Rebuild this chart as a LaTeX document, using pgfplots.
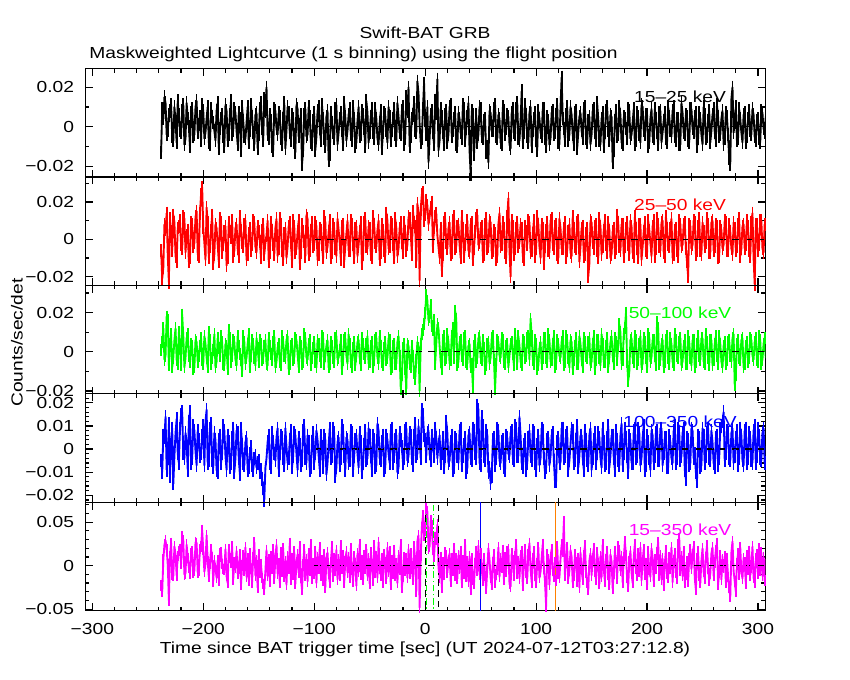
\documentclass[border=0pt]{standalone}
\usepackage{pgfplots}
\pgfplotsset{compat=1.18}
\usepackage{pgfplotstable}
\usepackage{fontspec}
\setmainfont{Liberation Sans}[FakeStretch=1.2]
\definecolor{pgred}{RGB}{255,0,0}
\definecolor{pggreen}{RGB}{0,255,0}
\definecolor{pgblue}{RGB}{0,0,255}
\definecolor{pgmag}{RGB}{255,0,255}
\definecolor{pgorange}{RGB}{255,128,0}
% t [s], rates in units of 1e-3 counts/sec/det
\pgfplotstableread{
t a b c d e
-238 -13 -6 1 -5 -23
-237 9 -21 5 -10 -30
-236 4 -15 12 6 7
-235 15 8 -4 5 24
-234 12 5 -2 14 29
-233 -4 14 18 -9 19
-232 -2 -9 16 -4 1
-231 6 -23 -7 11 -40
-230 8 11 4 -12 11
-229 11 4 9 2 26
-228 -5 -6 -8 9 -10
-227 -7 13 -3 -15 -12
-226 10 9 6 -3 22
-225 3 -9 12 7 13
-224 -8 -12 -4 13 -11
-223 13 6 -6 -2 11
-222 6 7 10 -6 17
-221 -2 10 2 9 19
-220 -3 -3 -7 15 2
-219 8 -5 19 16 34
-218 11 12 8 -2 29
-217 -9 11 -8 -4 -10
-216 -6 -7 -3 7 -9
-215 12 2 7 3 24
-214 4 5 9 -9 9
-213 0 -12 -2 12 -2
-212 -10 -10 -5 16 -9
-211 7 9 4 -6 14
-210 9 8 3 -4 16
-209 -5 -4 -9 10 -8
-208 -4 -2 -8 8 -6
-207 10 12 6 -1 27
-206 13 15 5 -7 26
-205 -3 -8 -5 8 -8
-204 1 -9 -2 4 -6
-203 5 14 3 -3 19
-202 -7 24 7 -2 22
-201 11 28 -4 6 41
-200 8 6 -6 10 18
-199 -6 -2 8 -7 -7
-198 -3 -11 4 12 2
-197 4 17 -3 17 35
-196 10 9 -8 -6 5
-195 -8 -10 10 -5 -13
-194 -9 -4 6 9 2
-193 9 5 -6 11 19
-192 5 13 -3 -5 10
-191 2 -13 1 -8 -18
-190 -2 -8 9 7 6
-189 -7 8 -8 4 -3
-188 8 6 -5 -9 -14
-187 12 -3 7 -10 6
-186 -11 -12 2 4 -17
-185 -1 11 -2 6 14
-184 4 9 8 -6 15
-183 6 -7 5 -2 2
-182 -5 -3 -6 10 -4
-181 -10 4 -7 8 -5
-180 11 7 4 -3 19
-179 8 -14 3 -9 -12
-178 -7 -10 -9 6 -20
-177 -4 9 11 3 19
-176 6 4 7 -8 9
-175 13 1 -5 -6 3
-174 -4 10 -2 5 22
-173 -2 -9 6 9 -16
-172 9 -6 5 -10 4
-171 7 6 -4 -4 -2
-170 -2 8 -7 8 17
-169 -9 -5 8 7 -9
-168 7 -9 3 -4 -3
-167 4 12 -1 -11 13
-166 -12 5 -4 9 -22
-165 10 -2 -10 2 0
-164 3 -4 8 -6 12
-163 -5 8 5 -7 -6
-162 -6 10 -6 3 21
-161 2 -11 -3 5 -13
-160 10 -8 4 -9 8
-159 -8 3 9 -8 -17
-158 -2 6 -8 -2 14
-157 11 -6 -2 1 -4
-156 5 -3 6 -7 -19
-155 -3 10 4 -9 10
-154 -9 9 -3 -4 27
-153 6 -4 -7 -3 -11
-152 7 -7 7 -8 6
-151 -11 7 2 -6 -25
-150 -4 4 -5 -5 13
-149 9 -1 6 -10 -8
-148 12 -10 4 -9 2
-147 -1 5 -4 -13 -14
-146 -7 8 -3 -17 -21
-145 14 -8 3 -22 -27
-144 8 -2 6 -8 -6
-143 20 2 -6 -4 18
-142 -4 10 -7 3 -12
-141 -6 -12 7 6 7
-140 6 -7 3 -6 -18
-139 3 9 -1 -8 11
-138 -10 5 -4 7 -3
-137 -12 -3 5 3 19
-136 9 -8 8 -2 -15
-135 8 6 -8 -5 8
-134 -1 11 -5 5 24
-133 -4 -9 2 9 -9
-132 7 -5 4 -9 3
-131 5 11 -5 -2 -20
-130 -6 8 -7 6 15
-129 -9 -6 8 5 -7
-128 4 -11 5 -4 20
-127 12 3 -2 -7 -13
-126 -11 6 -3 9 5
-125 -2 -10 6 1 -22
-124 10 -4 8 -6 11
-123 7 7 -9 -4 -4
-122 -3 9 -6 4 26
-121 -7 -2 3 8 -16
-120 6 -12 4 -8 9
-119 4 10 -4 -3 -10
-118 -8 7 -3 7 16
-117 -13 -7 7 6 -21
-116 11 -5 6 -2 4
-115 9 4 -1 -9 13
-114 -5 10 -8 5 -8
-113 1 -13 5 2 22
-112 6 -7 3 -7 -14
-111 -19 8 -6 -5 -28
-110 -12 4 -5 8 2
-109 6 -1 9 10 19
-108 9 -9 7 -4 -11
-107 -5 13 -3 -6 7
-106 -4 11 -4 6 -18
-105 10 -8 4 3 14
-104 5 -6 6 -9 -6
-103 -8 5 -7 -8 24
-102 -9 9 -3 3 -15
-101 3 -4 2 7 3
-100 7 -3 5 -6 -9
-99 -12 9 -5 -2 17
-98 -5 7 -8 8 -20
-97 8 -11 6 4 10
-96 10 -8 4 -3 -4
-95 -1 6 -2 -9 21
-94 -7 5 -5 6 -12
-93 11 -3 8 1 6
-92 4 -10 7 -8 -17
-91 -6 12 -6 6 13
-90 -10 9 -2 4 -25
-89 5 -7 3 -11 8
-88 8 -4 6 -6 15
-87 -17 4 -8 2 -9
-86 -14 10 -6 9 -19
-85 7 -10 5 -4 4
-84 2 -7 3 -3 22
-83 -3 8 -3 9 -13
-82 -6 6 -5 7 9
-81 9 -5 7 -12 -6
-80 11 -9 8 -8 18
-79 -9 11 -4 3 -16
-78 -3 5 -3 5 7
-77 4 -2 1 -7 -11
-76 7 -11 6 -4 23
-75 -2 7 -9 10 -3
-74 -9 8 -4 8 12
-73 12 -12 6 -3 -20
-72 5 -4 7 -9 5
-71 -7 3 -2 5 16
-70 -2 10 -6 4 -8
-69 6 -6 9 -6 10
-68 9 -6 4 -5 -14
-67 -4 10 -5 8 20
-66 -7 8 -8 7 -5
-65 10 -3 2 -9 -18
-64 4 -10 5 -3 11
-63 -10 6 -7 4 3
-62 -8 7 -2 6 -23
-61 3 -9 5 -2 14
-60 10 -3 6 -8 -7
-59 -5 4 -3 7 25
-58 -4 9 -7 3 -10
-57 8 -13 7 -10 6
-56 6 -8 4 -6 -16
-55 -1 9 -1 2 12
-54 -10 11 -3 8 -3
-53 13 -4 4 -5 19
-52 7 -5 8 -4 -12
-51 -8 7 -6 9 8
-50 -3 6 -5 6 -21
-49 5 -8 3 -3 15
-48 9 -10 5 -9 2
-47 -3 12 -8 6 -17
-46 -6 8 -4 4 23
-45 9 -2 6 -8 -8
-44 4 -4 7 -7 11
-43 -6 5 -3 11 -14
-42 -9 10 -6 8 27
-41 2 -11 8 -4 -4
-40 8 -7 3 -5 -11
-39 -11 8 -5 3 9
-38 -3 5 -7 6 -19
-37 7 -6 2 -9 13
-36 6 -9 5 -8 4
-35 -2 14 -4 6 -15
-34 -8 10 -3 4 21
-33 10 -5 7 -2 -7
-32 5 -4 6 -6 16
-31 -7 9 -9 8 -22
-30 -2 8 -8 9 6
-29 4 -3 3 -6 -9
-28 9 -10 4 -3 18
-27 -4 11 -6 4 -12
-26 -7 6 -6 6 3
-25 12 -9 5 -10 -20
-24 5 -5 8 -8 12
-23 -3 6 -2 7 -5
-22 -4 9 -19 4 24
-21 8 -2 -12 1 -25
-20 10 -7 2 -6 -13
-19 -9 9 4 -4 10
-18 -6 4 -9 8 -6
-17 15 -6 -19 9 8
-16 8 -3 4 -5 -14
-15 20 12 3 -3 19
-14 -10 11 -6 7 -9
-13 -5 3 -8 6 14
-12 4 -8 3 -4 -3
-11 6 15 -2 -7 -16
-10 12 9 -11 6 22
-9 -2 7 -14 11 6
-8 -3 -12 -4 -3 -30
-7 23 19 5 -2 28
-6 17 14 2 10 35
-5 1 -22 -20 4 -48
-4 -8 16 4 -4 12
-3 -6 24 9 17 44
-2 9 25 11 15 58
-1 22 10 14 6 35
0 3 13 20 4 40
1 -4 21 29 -3 66
2 10 18 26 7 62
3 -18 8 16 8 20
4 -6 12 18 -2 22
5 6 17 24 -5 52
6 8 20 13 6 46
7 -3 -4 11 2 18
8 -9 6 16 -3 10
9 13 12 -6 9 33
10 7 14 4 5 30
11 24 2 14 -4 47
12 -12 -4 12 2 -2
13 -7 -10 3 6 -14
14 9 6 -5 -6 10
15 5 -17 -9 -2 -25
16 -3 -8 6 5 4
17 -9 9 8 -8 -10
18 6 11 -4 -3 15
19 8 -2 -3 12 12
20 -8 -5 9 7 -8
21 -4 6 5 -6 6
22 10 9 -6 -5 14
23 11 -8 -4 3 -18
24 -5 -7 8 6 9
25 -2 10 12 -9 -6
26 4 12 -3 -8 20
27 7 -5 21 5 -11
28 -9 -4 17 4 8
29 -10 7 -7 -3 -15
30 7 8 -5 -6 12
31 4 -3 5 8 -4
32 -3 -10 6 9 17
33 -6 12 -2 -7 -20
34 11 6 -4 -3 6
35 9 -9 7 2 -9
36 -7 -3 8 5 24
37 -1 5 -5 -10 -13
38 5 10 -6 -8 5
39 12 -6 3 6 -18
40 -12 -7 4 7 11
41 -24 8 -8 -4 -27
42 8 9 -6 -5 8
43 6 -11 -18 9 -16
44 -14 -5 3 8 -21
45 -3 4 6 -2 3
46 6 11 -5 -4 16
47 -8 13 -3 19 -6
48 -4 -3 7 17 23
49 10 -2 8 -6 -10
50 9 6 -3 -7 14
51 -5 7 -4 14 -3
52 -6 -9 6 10 -17
53 3 -8 2 -3 9
54 4 8 -9 -5 -12
55 -13 11 -7 8 -26
56 -10 -5 4 6 -4
57 -18 -4 5 -10 20
58 8 10 -6 -8 7
59 7 9 -3 -15 -14
60 -2 -7 7 -12 -22
61 -2 -6 8 4 4
62 9 5 -4 5 13
63 11 3 -19 -7 -19
64 -5 -11 -6 -4 -10
65 -6 -9 6 9 -5
66 6 8 5 8 21
67 4 14 -2 -5 -13
68 -8 -4 -3 -6 8
69 -9 -3 7 3 -2
70 10 9 6 4 18
71 8 6 -5 -8 -16
72 -4 -7 -6 -9 10
73 -1 -10 3 6 -7
74 6 12 4 5 17
75 5 22 -8 -2 19
76 -9 -6 -2 -3 -21
77 -11 -20 4 7 -24
78 7 10 5 8 14
79 9 7 -1 -4 6
80 -3 -8 -7 -5 -12
81 -4 -5 9 10 11
82 9 6 3 9 24
83 12 9 -6 -3 -9
84 -6 -4 8 -3 5
85 -7 -2 3 14 -15
86 3 8 -5 6 12
87 18 6 -7 -6 17
88 -8 -9 6 -8 -23
89 -3 -11 5 2 2
90 11 7 -3 4 19
91 6 4 -2 -9 -8
92 -5 -3 7 -6 -15
93 -8 10 8 5 13
94 7 9 -4 8 26
95 10 -7 17 -3 -4
96 -10 -6 8 -5 -19
97 -2 3 -4 8 8
98 4 10 -6 7 16
99 7 -9 6 -6 -11
100 -7 -5 4 -9 -20
101 -12 12 -9 2 3
102 8 8 -7 6 21
103 4 -4 2 -7 -14
104 -3 -10 5 -4 -7
105 -5 8 -6 9 9
106 9 6 -3 8 25
107 9 -13 7 -4 -3
108 -6 -4 7 -10 -18
109 -10 5 -3 -8 -47
110 5 9 -5 4 13
111 3 -6 9 5 7
112 -9 -7 6 -7 -22
113 -6 10 -5 -3 10
114 7 11 -4 6 19
115 8 -3 4 7 -6
116 -4 -5 8 -5 -13
117 -3 7 -8 -14 4
118 6 8 -6 -14 -17
119 11 -8 6 3 22
120 -8 -10 4 5 -9
121 -9 11 -2 -6 -14
122 10 6 -3 -6 8
123 25 -5 5 9 24
124 4 -5 8 9 16
125 -1 6 -7 -4 51
126 -7 9 -5 -3 -12
127 6 -10 8 6 5
128 10 -6 6 7 21
129 -7 4 -3 -9 -15
130 -4 8 -8 -5 -6
131 10 -7 6 2 18
132 6 -9 5 9 10
133 -4 12 -9 8 -20
134 -9 6 -4 -6 -11
135 7 -4 3 -5 13
136 8 -5 7 4 4
137 -11 9 -6 10 -18
138 -3 10 -6 -8 9
139 5 -12 8 -3 -25
140 7 -4 4 6 15
141 -2 6 -4 6 -5
142 -6 7 -8 -4 -16
143 9 -9 7 -9 12
144 10 -8 5 8 23
145 -6 3 -2 4 -8
146 -8 6 -3 -5 -19
147 3 -20 5 -7 -28
148 5 -13 7 6 6
149 -9 10 -7 9 14
150 -4 9 -5 -9 -11
151 8 -2 4 -4 9
152 9 -5 8 4 20
153 -3 7 -9 7 -7
154 -7 8 -4 -6 -16
155 12 -6 6 -2 15
156 4 -10 6 7 3
157 -7 11 -3 5 -21
158 -9 7 -7 -4 11
159 4 -8 9 -8 -13
160 7 -4 4 9 24
161 -10 5 -5 3 -4
162 -3 10 -5 -7 -18
163 8 -3 3 -6 7
164 10 -7 7 5 16
165 -2 9 -8 10 -10
166 -7 5 -3 -8 -22
167 6 -10 5 -3 13
168 5 -8 8 6 5
169 -18 4 -2 6 -26
170 -12 6 -6 -4 -9
171 3 -7 7 -9 17
172 8 -5 5 8 4
173 -5 13 -4 4 -15
174 -4 9 3 -5 22
175 10 -4 14 -7 18
176 6 -6 10 6 -6
177 -8 8 -6 11 11
178 -9 8 -4 -7 -19
179 5 -9 9 -2 8
180 4 -4 12 9 28
181 -1 6 20 5 12
182 -6 9 -5 -3 -14
183 9 -3 -15 -10 -24
184 8 -8 -10 6 5
185 -6 10 6 4 17
186 -4 7 7 -6 -8
187 2 -7 -3 -6 -20
188 9 -9 -5 8 10
189 -9 12 8 9 25
190 -7 6 6 -4 -3
191 7 -5 -6 -3 -12
192 5 -10 -4 9 14
193 -4 8 4 7 -7
194 -8 8 8 -7 21
195 11 -11 -8 -4 -17
196 10 -4 -6 5 6
197 -2 4 7 10 19
198 -4 9 5 -9 -10
199 6 -6 -3 -7 3
200 6 -7 -8 6 -22
201 -10 10 9 3 16
202 -8 5 7 -4 -5
203 4 -2 -5 -9 -13
204 9 -9 -3 8 20
205 -5 7 6 6 9
206 -6 10 6 -6 -18
207 9 -9 -2 -3 7
208 4 -5 -7 7 -4
209 -3 11 15 8 15
210 -9 8 12 -5 27
211 7 -4 -6 -5 -11
212 8 -6 -4 9 12
213 -8 9 4 9 -16
214 -3 10 6 -7 8
215 3 -7 -8 -2 -23
216 7 -9 -5 5 2
217 -6 12 6 5 18
218 -8 6 8 -8 -9
219 10 -3 -3 -8 -14
220 5 -4 -6 6 10
221 -2 6 7 3 -3
222 -5 11 4 -4 21
223 8 -10 -5 -6 -19
224 10 -8 -7 8 6
225 -5 5 9 10 14
226 -7 6 6 -6 -8
227 4 -6 -2 -4 -15
228 4 -9 -3 9 24
229 -9 10 5 7 32
230 -9 8 7 -5 -6
231 12 -4 -7 -3 11
232 7 -3 -5 7 -12
233 -3 8 3 9 17
234 -4 9 6 -9 -20
235 6 -5 -6 -13 -10
236 5 -12 -6 5 5
237 -7 -20 8 4 -18
238 -8 8 5 -7 9
239 9 7 -3 -6 19
240 9 -5 -7 9 -4
241 -1 -3 6 8 13
242 -3 10 6 -4 22
243 5 9 -8 -2 -14
244 7 -8 -5 -10 -28
245 -10 -6 4 -14 8
246 -6 7 8 6 16
247 7 11 -2 5 -11
248 4 -6 -4 -8 -20
249 -4 -8 7 -7 6
250 -9 9 7 9 20
251 10 4 -5 6 -7
252 6 -4 -6 -6 -15
253 -6 -2 9 -3 10
254 -5 11 5 7 23
255 3 8 -3 9 -3
256 8 -7 -7 -4 -17
257 -8 -7 6 -5 -9
258 -2 9 6 8 14
259 6 10 -7 3 21
260 9 -6 -4 -6 -12
261 -3 -4 4 -8 4
262 -7 8 8 5 18
263 11 7 -2 6 26
264 5 -10 -6 -7 -22
265 -5 -9 8 -4 -8
266 -4 7 4 9 12
267 4 5 -5 10 -16
268 8 -5 -8 12 7
269 -9 -3 3 16 -2
270 -6 10 5 -5 11
271 7 9 -6 -2 -19
272 5 -6 -4 8 9
273 -4 -6 5 7 -13
274 -16 8 6 -4 -25
275 -19 4 -2 -5 -36
276 14 -5 -5 7 15
277 20 -8 7 9 28
278 -3 9 9 -6 -6
279 2 6 -17 -3 -18
280 10 -6 -12 5 -30
281 -7 -4 4 8 3
282 -6 8 6 -7 14
283 9 11 -3 -4 -10
284 4 -9 -4 9 21
285 -3 -5 6 6 -7
286 -8 7 7 -5 -15
287 6 8 -8 -7 9
288 7 -5 -6 8 4
289 -8 -3 3 9 -21
290 -5 10 5 -6 12
291 4 7 -5 -4 -5
292 8 -6 -3 7 17
293 -2 -9 7 5 -11
294 -4 9 6 -5 -2
295 9 14 -2 -6 22
296 6 -10 -4 8 -14
297 -5 -24 5 10 -19
298 -7 8 7 -6 8
299 3 8 -4 -3 13
300 4 -6 -5 9 -9
301 -6 -3 8 6 20
302 -8 10 6 -4 -6
303 8 10 -6 -5 15
304 7 -5 -4 7 -12
305 -1 -7 4 9 10
306 -3 8 7 -6 -17
307 5 4 -3 -4 7
308 6 -6 -3 5 2
}\lc

\tikzset{band/.style={font=\fontsize{12}{14}\selectfont}}
\pgfplotsset{
  panel/.style={
    scale only axis, width=510pt, height=81.3pt,
    xmin=-306.3, xmax=306.6,
    xtick={-300,-200,-100,0,100,200,300},
    minor x tick num=4,
    xticklabels={},
    tick pos=both, tick align=inside,
    axis line style={line width=0.9pt},
    every tick/.style={black, line width=0.9pt},
    major tick length=5.5pt, minor tick length=3pt,
    tick label style={font=\fontsize{12}{14}\selectfont},
    yticklabel style={xshift=-5pt},
    clip=true,
  },
  lc/.style={line width=1.4pt, sharp plot, line join=round,
    mark=|, mark size=#1, mark options={solid, line width=1.3pt}},
  zl/.style={black, line width=0.9pt, dash pattern=on 5pt off 4.5pt},
}

\begin{document}
\begin{tikzpicture}
\path (0pt,0pt) rectangle (637.5pt,510pt);
\node[font=\fontsize{12}{14}\selectfont] at (318.75pt,485.25pt) {Swift-BAT GRB};
\node[font=\fontsize{12}{14}\selectfont, anchor=west] at (63.5pt,469.5pt) {Maskweighted Lightcurve (1 s binning) using the flight position};
\node[font=\fontsize{12}{14}\selectfont] at (318.75pt,23.25pt) {Time since BAT trigger time [sec] (UT 2024-07-12T03:27:12.8)};
\node[font=\fontsize{12}{14}\selectfont, rotate=90] at (12.75pt,253pt) {Counts/sec/det};

% panel 1
\begin{axis}[panel, at={(64pt,377.2pt)}, anchor=south west,
  ymin=-25.5, ymax=29.4, ytick={-20,0,20}, yticklabels={−0.02,0,0.02},
  minor ytick={-10,10}]
\node[band, black] at (rel axis cs:0.8746,0.745) {15–25 keV};
\addplot[lc=5pt, black] table[x=t, y=a] {\lc};
\addplot[zl] coordinates {(-100,0) (320,0)};
\end{axis}

% panel 2
\begin{axis}[panel, at={(64pt,295.9pt)}, anchor=south west,
  ymin=-24.7, ymax=33.3, ytick={-20,0,20}, yticklabels={−0.02,0,0.02},
  minor ytick={-10,10,30}]
\node[band, pgred] at (rel axis cs:0.8746,0.745) {25–50 keV};
\addplot[lc=4.8pt, pgred] table[x=t, y=b] {\lc};
\addplot[zl] coordinates {(-100,0) (320,0)};
\end{axis}

% panel 3
\begin{axis}[panel, at={(64pt,214.6pt)}, anchor=south west,
  ymin=-21.5, ymax=33.9, ytick={-20,0,20}, yticklabels={−0.02,0,0.02},
  minor ytick={-10,10,30}]
\node[band, pggreen] at (rel axis cs:0.8746,0.745) {50–100 keV};
\addplot[lc=4.5pt, pggreen] table[x=t, y=c] {\lc};
\addplot[zl] coordinates {(-100,0) (320,0)};
\end{axis}

% panel 4
\begin{axis}[panel, at={(64pt,133.3pt)}, anchor=south west,
  ymin=-23.0, ymax=23.9, ytick={-20,-10,0,10,20},
  yticklabels={−0.02,−0.01,0,0.01,0.02},
  minor ytick={-22,-18,-16,-14,-12,-8,-6,-4,-2,2,4,6,8,12,14,16,18,22}]
\node[band, pgblue] at (rel axis cs:0.8746,0.745) {100–350 keV};
\addplot[lc=5pt, pgblue] table[x=t, y=d] {\lc};
\addplot[zl] coordinates {(-100,0) (320,0)};
\end{axis}

% panel 5
\begin{axis}[panel, at={(64pt,52pt)}, anchor=south west,
  ymin=-51.7, ymax=72.9, ytick={-50,0,50}, yticklabels={−0.05,0,0.05},
  minor ytick={-40,-30,-20,-10,10,20,30,40,60,70},
  xticklabels={−300,−200,−100,0,100,200,300},
  xticklabel pos=bottom, xticklabel style={yshift=-6pt}]
\node[band, pgmag] at (rel axis cs:0.8746,0.745) {15–350 keV};
\addplot[lc=4pt, pgmag] table[x=t, y=e] {\lc};
\addplot[zl] coordinates {(-100,0) (320,0)};
\addplot[black, line width=0.9pt, dash pattern=on 5pt off 3pt] coordinates {(0,-60) (0,80)};
\addplot[black, line width=0.9pt, dash pattern=on 5pt off 3pt] coordinates {(12,-60) (12,80)};
\addplot[pggreen, line width=0.9pt, dash pattern=on 5pt off 2pt on 1pt off 2pt] coordinates {(1.5,-60) (1.5,80)};
\addplot[pggreen, line width=0.9pt, dash pattern=on 5pt off 2pt on 1pt off 2pt] coordinates {(7.5,-60) (7.5,80)};
\addplot[pgblue, line width=0.9pt] coordinates {(50.2,-60) (50.2,80)};
\addplot[pgorange, line width=0.9pt] coordinates {(117.8,-60) (117.8,80)};
\end{axis}
\end{tikzpicture}
\end{document}
